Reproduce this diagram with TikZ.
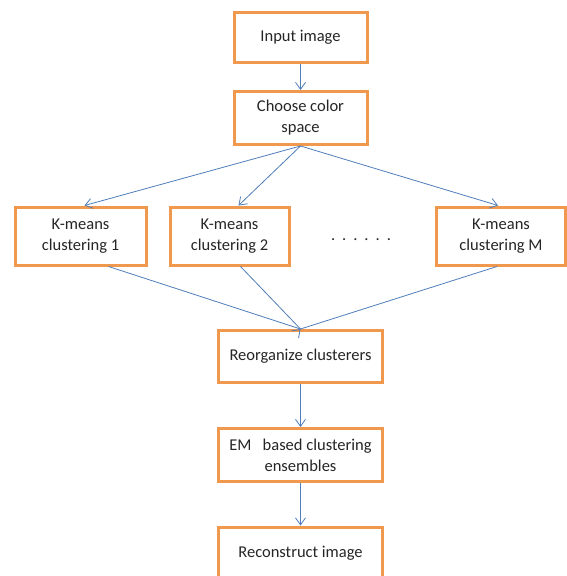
\documentclass[tikz,border=0pt]{standalone}
\usepackage{fontspec}
\setmainfont{Carlito}
\usetikzlibrary{arrows.meta}
\definecolor{boxorange}{HTML}{F0994E}
\definecolor{linkblue}{HTML}{4F7DBA}
\begin{document}
\begin{tikzpicture}[x=1pt,y=-1pt,
  stepbox/.style={draw=boxorange, line width=3pt, fill=white, align=center,
    font=\fontsize{16.5}{21}\selectfont, text=black!85, inner sep=0pt},
  link/.style={draw=linkblue, line width=0.8pt, -{Straight Barb[length=7pt,width=10pt]}},
  plain/.style={draw=linkblue, line width=0.8pt}]
\useasboundingbox (0,0) rectangle (567,576);
\clip (0,0) rectangle (567,576);
\node[stepbox, minimum width=133pt, minimum height=50pt] (in) at (300.5,37.5) {Input image};
\node[stepbox, minimum width=133pt, minimum height=53pt] (cs) at (300.5,118) {Choose color\\space};
\node[stepbox, minimum width=131pt, minimum height=58pt] (k1) at (80.5,236) {K-means\\clustering 1};
\node[stepbox, minimum width=119pt, minimum height=58pt] (k2) at (229.5,236) {K-means\\clustering 2};
\node[stepbox, minimum width=129pt, minimum height=58pt] (km) at (501,236) {K-means\\clustering M};
\node[font=\fontsize{16.5}{21}\selectfont, text=black!85] (dots) at (361,240) {.\hspace{7pt}.\hspace{7pt}.\hspace{7pt}.\hspace{7pt}.\hspace{7pt}.};
\node[stepbox, minimum width=164pt, minimum height=52pt] (re) at (300.5,356.5) {Reorganize clusterers};
\node[stepbox, minimum width=164pt, minimum height=53pt] (em) at (300.5,455) {EM\hspace{0.45em} based clustering\\ensembles};
\node[stepbox, minimum width=164pt, minimum height=56pt] (rc) at (300.5,555) {};
\node[font=\fontsize{16.5}{21}\selectfont, text=black!85] (rctext) at (300.5,553) {Reconstruct image};
\draw[link] (in.south) -- (cs.north);
\draw[link] (cs.south) -- ([xshift=4pt]k1.north);
\draw[link] (cs.south) -- ([xshift=9pt]k2.north);
\draw[link] (cs.south) -- ([xshift=-3pt]km.north);
\draw[plain] ([xshift=28pt]k1.south) -- (re.north);
\draw[plain] ([xshift=11pt]k2.south) -- (re.north);
\draw[plain] ([xshift=-4pt]km.south) -- (re.north);
\draw[link] ([xshift=-1pt,yshift=-1pt]re.north) -- (re.north);
\draw[link] (re.south) -- (em.north);
\draw[link] (em.south) -- (rc.north);
\end{tikzpicture}
\end{document}
